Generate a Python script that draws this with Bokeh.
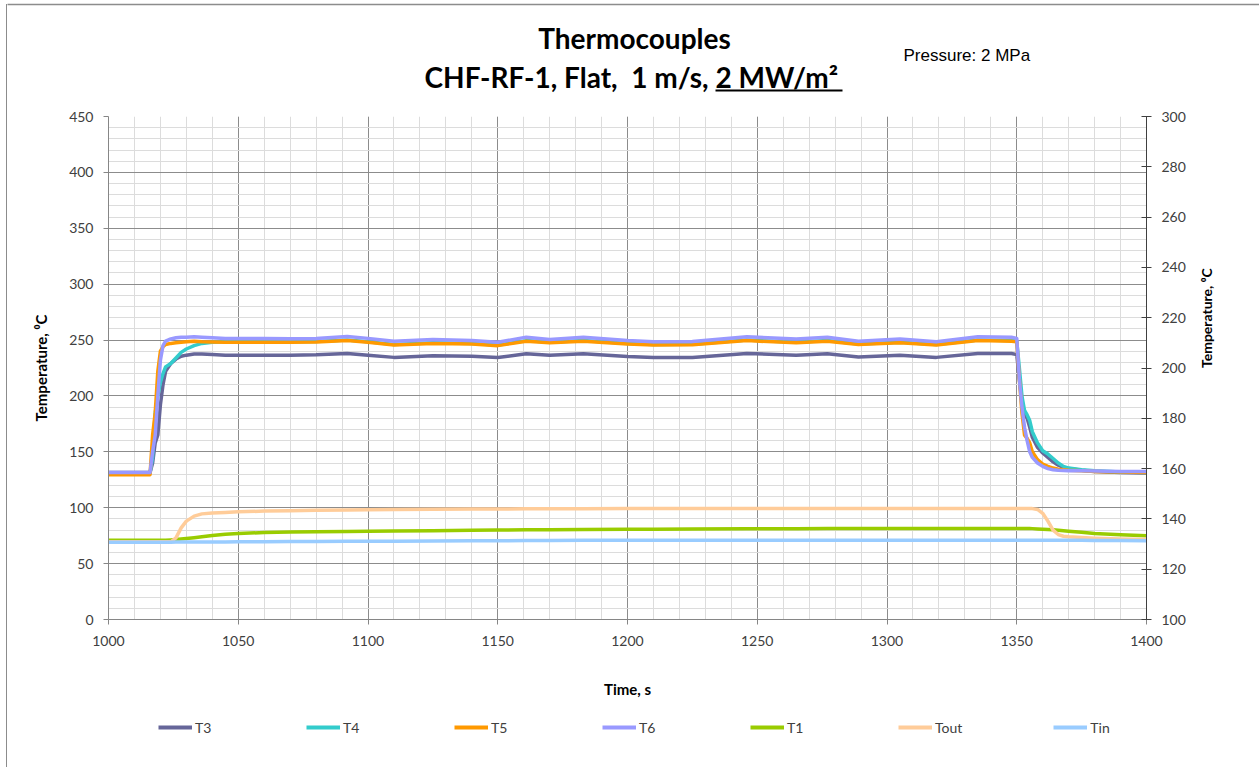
import math
from bokeh.plotting import figure
from bokeh.layouts import column
from bokeh.models import (Range1d, LinearAxis, SingleIntervalTicker,
                          Legend, LegendItem, ColumnDataSource)
from bokeh.core.properties import value
from bokeh.embed import file_html
from bokeh.resources import INLINE

# ---- data -------------------------------------------------------------
time_s = [1000, 1010, 1016, 1017, 1018, 1019, 1020, 1021, 1022, 1024,
          1026, 1028, 1030, 1033, 1036, 1040, 1045, 1050, 1060, 1070,
          1080, 1092, 1100, 1110, 1125, 1140, 1150, 1161, 1170, 1183,
          1200, 1210, 1225, 1246, 1265, 1277, 1289, 1305, 1319, 1335,
          1348, 1350, 1351, 1352, 1353, 1354, 1355, 1356, 1358, 1360,
          1362, 1364, 1366, 1368, 1370, 1375, 1380, 1390, 1400]

t3 = [131.5, 131.5, 131.5, 140, 158, 165, 192, 210, 222, 229,
      233, 235.5, 236.5, 237.5, 237.5, 237, 236.5, 236.5, 236.5, 236.5,
      236.8, 238, 236.5, 234.5, 236, 235.5, 234.3, 237.7, 236.3, 237.8,
      235.3, 234.5, 234.5, 238, 236.5, 237.8, 234.8, 236.5, 234.5, 238,
      238, 237, 215, 195, 184, 180, 172, 163, 154, 149,
      145, 141, 138, 136, 135, 133.5, 132.5, 131.5, 131]

t4 = [131, 131, 131, 145, 185, 200, 212, 220, 226, 229,
      234, 239, 242, 245, 247, 248, 248.5, 248.5, 248.5, 248.5,
      248.8, 250, 248.5, 246, 247.5, 247, 245.5, 249.5, 248, 249.5,
      247, 246, 246.3, 250, 248, 249.5, 246.5, 248, 246, 250,
      249.5, 249, 225, 200, 187, 183, 178, 168, 158, 151,
      148, 144, 140, 137, 135.5, 134, 133, 132, 131.5]

t5 = [129.5, 129.5, 129.5, 165, 185, 222, 240, 244, 246, 247,
      247.5, 248, 248.5, 249, 248.5, 248.3, 248, 248, 248, 248,
      248.3, 249.5, 248, 245.5, 247, 246.5, 245, 249, 247.5, 249,
      246.5, 245.5, 245.8, 249.5, 247.5, 249, 246, 247.5, 245.5, 249.5,
      249, 248.5, 215, 185, 165, 162, 158, 150, 143, 139,
      137, 135.5, 134.5, 134, 133.5, 133, 132.5, 132, 131.5]

t6 = [131.5, 131.5, 131.5, 150, 165, 200, 232, 245, 249, 251,
      252, 252.5, 252.5, 253, 252.5, 252, 251.5, 251.3, 251.3, 251.2,
      251.5, 253.2, 251.5, 249, 250.5, 249.5, 248, 252.6, 250.5, 252.6,
      249.5, 248.5, 248.7, 253, 251, 252.5, 249, 251, 248.5, 253,
      252.5, 251.5, 215, 190, 172, 160, 150, 145, 140, 137,
      135, 134, 133.5, 133.2, 133, 133, 132.8, 132.5, 132.5]

t1 = [71, 71, 71, 71, 71, 71, 71, 71, 71, 71.2,
      71.5, 72, 72.5, 73.2, 74, 75.2, 76.3, 77, 77.8, 78.2,
      78.5, 78.8, 79, 79.2, 79.5, 79.8, 80, 80.2, 80.3, 80.5,
      80.7, 80.8, 81, 81.2, 81.2, 81.3, 81.3, 81.5, 81.5, 81.5,
      81.5, 81.5, 81.5, 81.5, 81.5, 81.4, 81.4, 81.3, 81, 80.8,
      80.5, 80.2, 79.8, 79.5, 79, 78, 77, 75.8, 75]

tout = [69.5, 69.5, 69.5, 69.5, 69.5, 69.5, 69.5, 69.5, 69.5, 69.5,
        73, 82, 88, 92.5, 94.5, 95.3, 95.8, 96.3, 97, 97.4,
        97.7, 98, 98.2, 98.4, 98.6, 98.8, 98.9, 99, 99, 99.1,
        99.2, 99.2, 99.3, 99.3, 99.3, 99.3, 99.3, 99.3, 99.3, 99.3,
        99.3, 99.3, 99.3, 99.3, 99.3, 99.3, 99.2, 99.2, 98.5, 95,
        88, 80, 76, 74.5, 74, 73.3, 72.8, 72, 71.5]

tin = [69, 69.1, 69.2, 69.2, 69.2, 69.2, 69.2, 69.2, 69.2, 69.2,
       69.3, 69.3, 69.3, 69.3, 69.3, 69.4, 69.4, 69.5, 69.6, 69.7,
       69.8, 69.9, 70, 70.1, 70.3, 70.4, 70.5, 70.6, 70.7, 70.8,
       71, 71, 71, 71, 71, 71, 71, 71, 71, 71,
       71, 71, 71, 71, 71, 71, 71, 71, 71, 70.9,
       70.9, 70.9, 70.9, 70.8, 70.8, 70.8, 70.7, 70.6, 70.5]

series_names = ["T3", "T4", "T5", "T6", "T1", "Tout", "Tin"]
series_values = [t3, t4, t5, t6, t1, tout, tin]
series_colors = ["#666699", "#33CCCC", "#FF9900", "#9999FF", "#99CC00", "#FFCC99", "#99CCFF"]

left_ticks = 50
right_range = (100, 300)
right_ticks = 20

title_line1 = "Thermocouples"
title_line2a = "CHF-RF-1, Flat,\u00a0 1 m/s,"
title_line2b = "2 MW/m\u00b2"
pressure_note = "Pressure: 2 MPa"

FONT = "Lato"
W = 1259
HEAD_H, MAIN_H, FOOT_H = 106, 600, 61


def bare_figure(height):
    f = figure(width=W, height=height, output_backend="svg", toolbar_location=None,
               x_range=Range1d(0, W), y_range=Range1d(height, 0),
               x_axis_type=None, y_axis_type=None, min_border=0)
    f.outline_line_color = None
    f.background_fill_alpha = 0
    f.border_fill_alpha = 0
    if hasattr(f, "frame_align"):
        f.frame_align = False
    return f


# ---- header: titles ----------------------------------------------------
head = bare_figure(HEAD_H)
head.text(x=[634], y=[37], text=[title_line1], text_font=value(FONT),
          text_font_style="bold", text_font_size="28px",
          text_align="center", text_baseline="alphabetic", text_color="#000000")
head.text(x=[708], y=[76], text=[title_line2a], text_font=value(FONT),
          text_font_style="bold", text_font_size="28px",
          text_align="right", text_baseline="alphabetic", text_color="#000000")
head.text(x=[715], y=[76], text=[title_line2b], text_font=value(FONT),
          text_font_style="bold", text_font_size="28px",
          text_align="left", text_baseline="alphabetic", text_color="#000000")
head.segment(x0=[715], y0=[90], x1=[842], y1=[90], line_color="#000000", line_width=2)
head.text(x=[903], y=[55], text=[pressure_note], text_font=value("Liberation Sans"),
          text_font_size="17px", text_align="left", text_baseline="middle",
          text_color="#000000")
# chart-area border, top edge
head.segment(x0=[7], y0=[4], x1=[W], y1=[4], line_color="#8c8c8c", line_width=1.5)

# ---- main plot ---------------------------------------------------------
p = figure(width=W, height=MAIN_H, output_backend="svg", toolbar_location=None,
           x_range=Range1d(1000, 1400), y_range=Range1d(0, 450),
           min_border_left=108, min_border_right=113,
           min_border_top=10, min_border_bottom=MAIN_H - 10 - 503,
           background_fill_color="white")
p.border_fill_alpha = 0
p.outline_line_color = None

p.xaxis.ticker = SingleIntervalTicker(interval=50, num_minor_ticks=5)
p.yaxis.ticker = SingleIntervalTicker(interval=left_ticks, num_minor_ticks=5)

for g in (p.xgrid, p.ygrid):
    g.grid_line_color = "#8c8c8c"
    g.grid_line_width = 1
    g.minor_grid_line_color = "#dcdcdc"
    g.minor_grid_line_width = 1


def style_axis(ax, line_color="#868686"):
    ax.axis_line_color = line_color
    ax.major_tick_line_color = line_color
    ax.minor_tick_line_color = None
    ax.major_tick_out = 5
    ax.major_tick_in = 0
    ax.major_label_text_font = FONT
    ax.major_label_text_font_size = "14px"
    ax.major_label_text_color = "#404040"
    ax.axis_label_text_font = FONT
    ax.axis_label_text_font_style = "bold"
    ax.axis_label_text_color = "#000000"


style_axis(p.xaxis[0])
style_axis(p.yaxis[0])
p.xaxis.axis_label = "Time, s"
p.xaxis.axis_label_text_font_size = "15px"
p.xaxis.major_label_standoff = 11
p.xaxis.axis_label_standoff = 31
p.yaxis.axis_label = "Temperature, \u2070C"
p.yaxis.axis_label_text_font_size = "15px"
p.yaxis.major_label_standoff = 10
p.yaxis.axis_label_standoff = 16

p.extra_y_ranges = {"right": Range1d(*right_range)}
raxis = LinearAxis(y_range_name="right",
                   ticker=SingleIntervalTicker(interval=right_ticks, num_minor_ticks=0))
style_axis(raxis, "#404040")
raxis.major_tick_in = 5
raxis.major_label_standoff = 10
raxis.axis_label = "Temperature, \u2070C"
raxis.axis_label_text_font_size = "14px"
raxis.axis_label_standoff = 18
if hasattr(raxis, "axis_label_orientation"):
    raxis.axis_label_orientation = math.pi / 2
p.add_layout(raxis, "right")

src = ColumnDataSource({"time": time_s, **{n: v for n, v in zip(series_names, series_values)}})
for name, color in zip(series_names, series_colors):
    p.line("time", name, source=src, line_color=color, line_width=3.5,
           line_join="round", line_cap="round")

# ---- footer: legend ----------------------------------------------------
foot = bare_figure(FOOT_H)
items = []
for name, color in zip(series_names, series_colors):
    # legend swatch renderer: a single undefined point, so nothing is plotted
    r = foot.line(x=[float("nan")], y=[float("nan")], line_color=color, line_width=4)
    items.append(LegendItem(label=name, renderers=[r]))
legend = Legend(items=items, orientation="horizontal", location=(158, 30),
                glyph_width=34, glyph_height=20, label_height=20,
                label_standoff=3, spacing=91, padding=0, margin=0,
                label_text_font=FONT, label_text_font_size="14px",
                label_text_color="#404040",
                border_line_color=None, background_fill_alpha=0)
foot.add_layout(legend, "center")

layout = column(head, p, foot, spacing=0,
                styles={"background-color": "white",
                        "background-image": "linear-gradient(to right, transparent 6px, "
                                            "#8c8c8c 6px, #8c8c8c 7.5px, transparent 7.5px)",
                        "background-position": "0 4px",
                        "background-repeat": "no-repeat"})

open("out.html", "w").write(file_html(layout, INLINE))
